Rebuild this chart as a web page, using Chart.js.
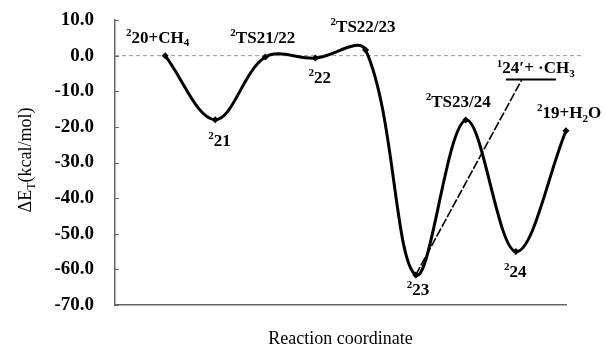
<!DOCTYPE html>
<html>
<head>
<meta charset="utf-8">
<script src="https://cdn.jsdelivr.net/npm/chart.js@4.4.1/dist/chart.umd.min.js"></script>
<style>
  html, body { margin: 0; padding: 0; background: #ffffff; }
  #wrap { width: 605px; height: 350px; }
</style>
</head>
<body>
<div id="wrap"><canvas id="c" width="605" height="350"></canvas></div>
<script>
// ---------- data ----------
// Reaction coordinate positions of each stationary point
const coordinate = [1, 2, 3, 4, 5, 6, 7, 8, 9];
// Point labels ({..} = superscript, [..] = subscript)
const pointLabels = ['{2}20+CH[4]', '{2}21', '{2}TS21/22', '{2}22', '{2}TS22/23', '{2}23', '{2}TS23/24', '{2}24', '{2}19+H[2]O'];
// Relative energies ΔE_T (kcal/mol)
const energies = [0.0, -18.0, -0.4, -0.7, 1.6, -61.6, -18.1, -55.0, -21.1];
// Side product level 1 24' + ·CH3
const sideLabel = '{1}24\u2032+ \u00B7CH[3]';
const sideEnergy = -6.7;
const sideLevelRange = [7.8, 8.8];
const sideLinkFrom = 6;       // connected from 2 23
const sideLinkTo = 8.12;
// Axis ticks
const yTicks = [10, 0, -10, -20, -30, -40, -50, -60, -70];
const xTitle = 'Reaction coordinate';
const yTitle = ['\u0394E', '[T]', '(kcal/mol)'];

// ---------- style (label placement relative to points, px) ----------
const labelOffsets = [[-39, -13], [-7, 26], [-35, -14], [-7, 25], [-35, -18], [-9, 20], [-40, -13], [-12, 25], [-29, -13]];
const sideLabelOffset = [-9, -6];
const FONT = '"Liberation Serif", "Times New Roman", serif';

function parseRich(s) {
  const parts = [];
  const re = /\{([^}]*)\}|\[([^\]]*)\]|([^{\[]+)/g;
  let m;
  while ((m = re.exec(s)) !== null) {
    if (m[1] !== undefined) parts.push({t: m[1], k: 'sup'});
    else if (m[2] !== undefined) parts.push({t: m[2], k: 'sub'});
    else parts.push({t: m[3], k: 'n'});
  }
  return parts;
}
function drawRich(ctx, s, x, y, size, weight) {
  const parts = parseRich(s);
  let cx = x;
  ctx.textAlign = 'left';
  ctx.textBaseline = 'alphabetic';
  for (const p of parts) {
    let fs = size, dy = 0;
    if (p.k === 'sup') { fs = Math.round(size * 0.65); dy = -size * 0.4; }
    if (p.k === 'sub') { fs = Math.round(size * 0.65); dy = size * 0.22; }
    ctx.font = weight + ' ' + fs + 'px ' + FONT;
    ctx.fillText(p.t, cx, y + dy);
    cx += ctx.measureText(p.t).width;
  }
  return cx - x;
}
function richWidth(ctx, s, size, weight) {
  let w = 0;
  for (const p of parseRich(s)) {
    const fs = p.k === 'n' ? size : Math.round(size * 0.65);
    ctx.font = weight + ' ' + fs + 'px ' + FONT;
    w += ctx.measureText(p.t).width;
  }
  return w;
}

const decorPlugin = {
  id: 'decor',
  afterDraw(chart) {
    const ctx = chart.ctx;
    const xs = chart.scales.x, ys = chart.scales.y;
    const area = chart.chartArea;
    ctx.save();
    // inward tick marks on y axis
    ctx.strokeStyle = '#666';
    ctx.lineWidth = 1;
    for (const v of yTicks) {
      const py = Math.round(ys.getPixelForValue(v)) + 0.5;
      ctx.beginPath();
      ctx.moveTo(area.left, py);
      ctx.lineTo(area.left + 4, py);
      ctx.stroke();
    }
    // point labels
    ctx.fillStyle = '#000';
    coordinate.forEach((c, i) => {
      const px = xs.getPixelForValue(c);
      const py = ys.getPixelForValue(energies[i]);
      drawRich(ctx, pointLabels[i], px + labelOffsets[i][0], py + labelOffsets[i][1], 17, 'bold');
    });
    // side product label
    drawRich(ctx, sideLabel,
      xs.getPixelForValue(sideLevelRange[0]) + sideLabelOffset[0],
      ys.getPixelForValue(sideEnergy) + sideLabelOffset[1], 17, 'bold');
    // y axis title (rotated, with subscript)
    ctx.translate(25, 160);
    ctx.rotate(-Math.PI / 2);
    const yt = yTitle.join('');
    const w = richWidth(ctx, yt, 18, 'normal');
    drawRich(ctx, yt, -w / 2, 6, 18, 'normal');
    ctx.restore();
  }
};

new Chart(document.getElementById('c'), {
  type: 'scatter',
  data: {
    datasets: [
      {
        // zero reference line
        data: [{x: 0, y: 0}, {x: 9.33, y: 0}],
        showLine: true,
        borderColor: '#999',
        borderWidth: 1,
        borderDash: [4, 3],
        pointRadius: 0,
        clip: false,
        order: 5
      },
      {
        // link from 2 23 to side product level
        data: [{x: sideLinkFrom, y: energies[coordinate.indexOf(sideLinkFrom)]}, {x: sideLinkTo, y: sideEnergy}],
        showLine: true,
        borderColor: '#000',
        borderWidth: 1.6,
        borderDash: [9, 2],
        pointRadius: 0,
        order: 3
      },
      {
        // side product energy level
        data: [{x: sideLevelRange[0], y: sideEnergy}, {x: sideLevelRange[1], y: sideEnergy}],
        showLine: true,
        borderColor: '#000',
        borderWidth: 2.2,
        pointRadius: 0,
        order: 2
      },
      {
        // main reaction profile
        data: coordinate.map((c, i) => ({x: c, y: energies[i]})),
        showLine: true,
        borderColor: '#000',
        backgroundColor: '#000',
        borderWidth: 3,
        tension: 0.35,
        pointStyle: 'rectRot',
        pointRadius: 3.5,
        pointBorderWidth: 0,
        clip: 8,
        order: 1
      }
    ]
  },
  options: {
    responsive: false,
    animation: false,
    layout: { padding: { left: 0, right: 39, top: 20, bottom: 0 } },
    plugins: { legend: { display: false }, tooltip: { enabled: false } },
    scales: {
      x: {
        type: 'linear',
        min: 0, max: 9,
        grid: { display: false, drawTicks: false },
        border: { display: true, color: '#666', width: 1.5 },
        ticks: { display: false },
        title: {
          display: true, text: xTitle, color: '#000',
          font: { family: FONT, size: 18, weight: 'normal' },
          padding: { top: 0, bottom: 0 }
        },
        afterFit(scale) { scale.height = 45; scale.paddingLeft = 0; scale.paddingRight = 0; }
      },
      y: {
        min: -70, max: 10,
        grid: { display: false, drawTicks: false },
        border: { display: true, color: '#666', width: 1.5 },
        afterBuildTicks(scale) { scale.ticks = yTicks.map(v => ({value: v})); },
        ticks: {
          color: '#000',
          padding: 21,
          font: { family: FONT, size: 19, weight: 'bold' },
          callback: v => v.toFixed(1)
        },
        afterFit(scale) { scale.width = 115; scale.paddingTop = 0; scale.paddingBottom = 0; }
      }
    }
  },
  plugins: [decorPlugin]
});
</script>
</body>
</html>
